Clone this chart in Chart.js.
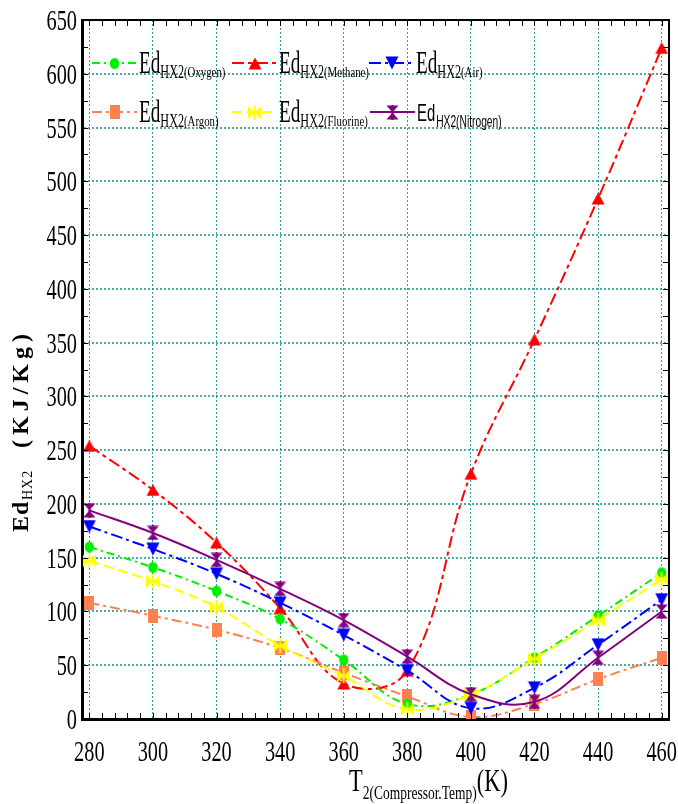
<!DOCTYPE html>
<html>
<head>
<meta charset="utf-8">
<script src="https://cdn.jsdelivr.net/npm/chart.js@4/dist/chart.umd.min.js"></script>
<style>
html,body{margin:0;padding:0;background:#fff;}
#wrap{width:678px;height:804px;position:relative;}
</style>
</head>
<body>
<div id="wrap"><canvas id="c" width="678" height="804"></canvas></div>
<script>
// ---------- data ----------
const temps = [280, 300, 320, 340, 360, 380, 400, 420, 440, 460];
const oxygen   = [160, 141, 119, 93, 55, 14, 23, 57, 96, 136];
const methane  = [254, 213, 164, 103, 33, 45, 228, 353, 484, 624];
const air      = [179, 158, 135, 108, 78, 45, 10, 29, 69, 111];
const argon    = [108, 96, 83, 66, 43, 21, 2, 14, 37, 57];
const fluorine = [147, 128, 104, 68, 40, 9, 23, 56, 92, 130];
const nitrogen = [194, 173, 148, 121, 92, 58, 23, 16, 57, 100];
const seriesNames = ['Oxygen', 'Methane', 'Air', 'Argon', 'Fluorine', 'Nitrogen'];
const xTickLabels = ['280', '300', '320', '340', '360', '380', '400', '420', '440', '460'];
const yTickLabels = ['0', '50', '100', '150', '200', '250', '300', '350', '400', '450', '500', '550', '600', '650'];

// ---------- marker images ----------
function mk(w, h, fn) {
  const c = document.createElement('canvas');
  c.width = w; c.height = h;
  fn(c.getContext('2d'), w, h);
  return c;
}
const mCircle = mk(11, 13, (g, w, h) => {
  g.fillStyle = '#00ee00';
  g.beginPath(); g.ellipse(w / 2, h / 2, 4.6, 5.6, 0, 0, Math.PI * 2); g.fill();
});
const mTriUp = mk(14, 13, (g, w, h) => {
  g.fillStyle = '#ff0000';
  g.beginPath(); g.moveTo(w / 2, 0.5); g.lineTo(w - 0.5, h - 0.5); g.lineTo(0.5, h - 0.5); g.closePath(); g.fill();
});
const mTriDown = mk(14, 14, (g, w, h) => {
  g.fillStyle = '#0000ff';
  g.beginPath(); g.moveTo(0.5, 0.5); g.lineTo(w - 0.5, 0.5); g.lineTo(w / 2, h - 0.5); g.closePath(); g.fill();
});
const mRect = mk(10, 14, (g, w, h) => {
  g.fillStyle = '#ff8050';
  g.fillRect(0, 0, w, h);
});
const mStar = mk(13, 15, (g, w, h) => {
  g.fillStyle = '#ffff00';
  g.strokeStyle = '#ffff00';
  g.beginPath(); g.moveTo(0, 1); g.lineTo(w / 2, h / 2); g.lineTo(0, h - 1); g.closePath(); g.fill();
  g.beginPath(); g.moveTo(w, 1); g.lineTo(w / 2, h / 2); g.lineTo(w, h - 1); g.closePath(); g.fill();
  g.lineWidth = 2;
  g.beginPath(); g.moveTo(w / 2, 0); g.lineTo(w / 2, h); g.stroke();
});
const mHour = mk(13, 15, (g, w, h) => {
  g.fillStyle = '#800080';
  g.strokeStyle = '#800080';
  g.beginPath(); g.moveTo(0.5, 0.5); g.lineTo(w - 0.5, 0.5); g.lineTo(w / 2, h / 2); g.closePath(); g.fill();
  g.beginPath(); g.moveTo(0.5, h - 0.5); g.lineTo(w - 0.5, h - 0.5); g.lineTo(w / 2, h / 2); g.closePath(); g.fill();
  g.lineWidth = 2;
  g.beginPath(); g.moveTo(w / 2, 0); g.lineTo(w / 2, h); g.stroke();
});

// ---------- datasets ----------
const styles = [
  { data: oxygen,   color: '#00ee00', dash: [8, 4, 2, 4],  marker: mCircle,  order: 3 },
  { data: methane,  color: '#ff0000', dash: [12, 4, 4, 4], marker: mTriUp,   order: 5 },
  { data: air,      color: '#0000ff', dash: [12, 4, 3, 4], marker: mTriDown, order: 1 },
  { data: argon,    color: '#ff8050', dash: [10, 4, 3, 4], marker: mRect,    order: 4 },
  { data: fluorine, color: '#ffff00', dash: [10, 5],       marker: mStar,    order: 2 },
  { data: nitrogen, color: '#800080', dash: [],            marker: mHour,    order: 0 }
];

const datasets = styles.map((s, i) => ({
  label: seriesNames[i],
  data: temps.map((t, k) => ({ x: t, y: s.data[k] })),
  borderColor: s.color,
  backgroundColor: s.color,
  borderWidth: 2,
  borderDash: s.dash,
  tension: 0.4,
  fill: false,
  pointStyle: s.marker,
  pointRadius: 7,
  order: s.order
}));

// ---------- helpers ----------
function condText(ctx, str, x, y, font, sx, align) {
  ctx.save();
  ctx.font = font;
  ctx.textAlign = align || 'left';
  ctx.textBaseline = 'alphabetic';
  ctx.translate(x, y);
  ctx.scale(sx, 1);
  ctx.fillText(str, 0, 0);
  const w = ctx.measureText(str).width * sx;
  ctx.restore();
  return w;
}
function spaced(ctx, str, x, y, font, spacing) {
  ctx.save();
  ctx.font = font;
  ctx.textAlign = 'left';
  let cx = x;
  for (const ch of str) {
    ctx.fillText(ch, cx, y);
    cx += ctx.measureText(ch).width + spacing;
  }
  ctx.restore();
  return cx - x - spacing;
}

const X_MINOR = 4;
const Y_MINOR = 25;
const SERIF = '"Liberation Serif", "Times New Roman", serif';
const SANS = '"Liberation Sans", Arial, sans-serif';

const deco = {
  id: 'deco',
  afterDraw(chart) {
    const { ctx, chartArea: a, scales: { x, y } } = chart;
    ctx.save();
    // frame top/right
    ctx.strokeStyle = '#000';
    ctx.lineWidth = 2;
    ctx.beginPath();
    ctx.moveTo(a.left, a.top); ctx.lineTo(a.right, a.top); ctx.lineTo(a.right, a.bottom);
    ctx.stroke();
    // minor / major ticks
    ctx.lineWidth = 1;
    ctx.beginPath();
    for (let v = temps[0]; v <= temps[temps.length - 1]; v += X_MINOR) {
      const px = Math.round(x.getPixelForValue(v)) + 0.5;
      ctx.moveTo(px, a.bottom); ctx.lineTo(px, a.bottom - 6);
      ctx.moveTo(px, a.top); ctx.lineTo(px, a.top + 6);
    }
    for (let v = 0; v <= 650; v += Y_MINOR) {
      const py = Math.round(y.getPixelForValue(v)) + 0.5;
      ctx.moveTo(a.left, py); ctx.lineTo(a.left + 6, py);
      ctx.moveTo(a.right, py); ctx.lineTo(a.right - 6, py);
    }
    ctx.stroke();

    ctx.fillStyle = '#000';
    // y tick labels
    yTickLabels.forEach(l => {
      const py = y.getPixelForValue(Number(l));
      condText(ctx, l, a.left - 5, py + 10, '29px ' + SERIF, 0.7, 'right');
    });
    // x tick labels
    xTickLabels.forEach(l => {
      const px = x.getPixelForValue(Number(l));
      condText(ctx, l, px, a.bottom + 42, '29px ' + SERIF, 0.7, 'center');
    });

    // x title
    let tx = 349;
    tx += condText(ctx, 'T', tx, 791, '32px ' + SERIF, 0.7, 'left');
    tx += condText(ctx, '2(Compressor.Temp)', tx, 799, '19px ' + SERIF, 0.71, 'left');
    condText(ctx, '(K)', tx, 791, '32px ' + SERIF, 0.7, 'left');

    // y title (rotated)
    ctx.save();
    ctx.translate(28, 532);
    ctx.rotate(-Math.PI / 2);
    spaced(ctx, 'Ed', 0, 0, 'bold 24px ' + SERIF, 1);
    spaced(ctx, 'HX2', 32, 4, '14px ' + SERIF, 1);
    spaced(ctx, '(KJ/Kg)', 84, 0, 'bold 24px ' + SERIF, 5);
    ctx.restore();

    // legend
    const legendPos = [[92, 63], [232, 63], [369, 63], [92, 112], [232, 112], [370, 112]];
    styles.forEach((s, i) => {
      const [lx, ly] = legendPos[i];
      ctx.save();
      ctx.strokeStyle = s.color;
      ctx.lineWidth = 2;
      ctx.setLineDash(s.dash);
      ctx.beginPath(); ctx.moveTo(lx, ly); ctx.lineTo(lx + 45, ly); ctx.stroke();
      ctx.restore();
      const m = s.marker;
      ctx.drawImage(m, Math.round(lx + 22.5 - m.width / 2), Math.round(ly - m.height / 2));
      let t = lx + 47;
      ctx.fillStyle = '#000';
      if (seriesNames[i] === 'Nitrogen') {
        t += condText(ctx, 'Ed', t, ly + 9, '24px ' + SANS, 0.62, 'left') + 1;
        condText(ctx, 'HX2(' + seriesNames[i] + ')', t, ly + 15, '16px ' + SANS, 0.64, 'left');
      } else {
        t += condText(ctx, 'Ed', t, ly + 10, '31px ' + SERIF, 0.62, 'left');
        t += condText(ctx, 'HX2', t, ly + 14.5, '19px ' + SERIF, 0.64, 'left');
        condText(ctx, '(' + seriesNames[i] + ')', t, ly + 14, '15px ' + SERIF, 0.72, 'left');
      }
    });
    ctx.restore();
  }
};

new Chart(document.getElementById('c'), {
  type: 'line',
  data: { datasets },
  options: {
    responsive: false,
    animation: false,
    layout: { padding: { left: 82, right: 5, top: 20, bottom: 85 } },
    plugins: { legend: { display: false }, tooltip: { enabled: false } },
    scales: {
      x: {
        type: 'linear',
        min: 277.7,
        max: 462.3,
        afterBuildTicks: (sc) => { sc.ticks = temps.map(v => ({ value: v })); },
        ticks: { display: false },
        grid: { color: 'rgba(20,140,140,0.85)', lineWidth: 1, drawTicks: false },
        border: { display: true, color: '#000', width: 3, dash: [2, 2] }
      },
      y: {
        type: 'linear',
        min: 0,
        max: 650,
        ticks: { display: false, stepSize: 50 },
        grid: { color: 'rgba(20,140,140,0.75)', lineWidth: 2, drawTicks: false },
        border: { display: true, color: '#000', width: 3, dash: [2, 2] }
      }
    }
  },
  plugins: [deco]
});
</script>
</body>
</html>
